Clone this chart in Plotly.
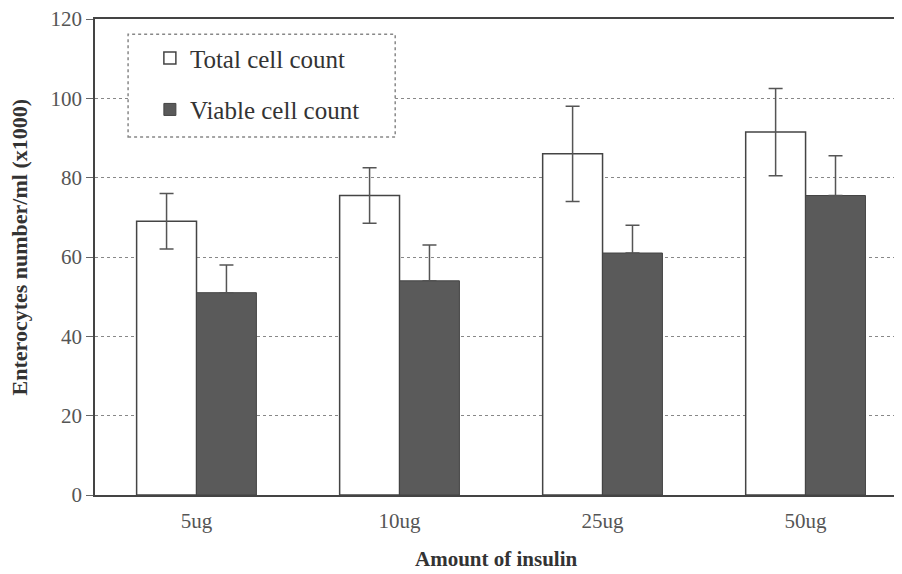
import plotly.graph_objects as go

categories = ["5ug", "10ug", "25ug", "50ug"]
total_counts = [69, 75.5, 86, 91.5]
total_err = [7, 7, 12, 11]
viable_counts = [51, 54, 61, 75.5]
viable_err = [7, 9, 7, 10]
y_ticks = [0, 20, 40, 60, 80, 100, 120]

serif = "Liberation Serif"

fig = go.Figure()
fig.add_trace(go.Bar(
    x=categories, y=total_counts, name="Total cell count", legendgroup="t",
    marker=dict(color="white", line=dict(color="#444", width=1.5)),
    error_y=dict(type="data", array=total_err, visible=True, color="#555", thickness=1.5, width=7),
))
fig.add_trace(go.Bar(
    x=categories, y=viable_counts, name="Viable cell count", legendgroup="v",
    marker=dict(color="#5a5a5a", line=dict(color="#444", width=1)),
    error_y=dict(type="data", array=viable_err, arrayminus=[0, 0, 0, 0], symmetric=False,
                 visible=True, color="#555", thickness=1.5, width=7),
))

# legend frame (dotted box as in the reference)
fig.add_shape(type="rect", xref="paper", yref="paper",
              x0=0.041, x1=0.372, y0=0.752, y1=0.968,
              fillcolor="white", line=dict(color="#888", width=1.5, dash="dot"),
              layer="above")

# axis titles
fig.add_annotation(text="<b>Enterocytes number/ml (x1000)</b>", xref="paper", yref="paper",
                   x=-0.093, y=0.522, textangle=-90, showarrow=False,
                   xanchor="center", yanchor="middle",
                   font=dict(family=serif, size=22, color="#333"))
fig.add_annotation(text="<b>Amount of insulin</b>", xref="paper", yref="paper",
                   x=0.498, y=-0.134, showarrow=False,
                   xanchor="center", yanchor="middle",
                   font=dict(family=serif, size=21, color="#333"))

fig.update_layout(
    width=894, height=566,
    margin=dict(l=87, r=0, t=11, b=79),
    paper_bgcolor="white", plot_bgcolor="white",
    barmode="group", bargap=0.41, bargroupgap=0,
    font=dict(family=serif, color="#444", size=21),
    showlegend=True,
    legend=dict(
        x=0.068, y=0.966, xanchor="left", yanchor="top",
        bgcolor="rgba(0,0,0,0)", borderwidth=0,
        font=dict(family=serif, size=25, color="#333"),
        tracegroupgap=16, itemwidth=30,
    ),
    xaxis=dict(
        range=[-0.5, 3.475], showline=True, linecolor="#444", linewidth=1.5,
        mirror=True, ticks="", showgrid=False, automargin=False,
        ticklabelstandoff=6,
        tickfont=dict(family=serif, size=21, color="#555"),
    ),
    yaxis=dict(
        range=[0, 120], tickvals=y_ticks, showline=True, linecolor="#444", linewidth=1.5,
        ticks="outside", ticklen=7, tickcolor="#666", automargin=False,
        ticklabeloverflow="allow",
        showgrid=True, gridcolor="#888", griddash="dot", gridwidth=1,
        tickfont=dict(family=serif, size=21, color="#555"),
    ),
)

fig.write_html("out.html")
